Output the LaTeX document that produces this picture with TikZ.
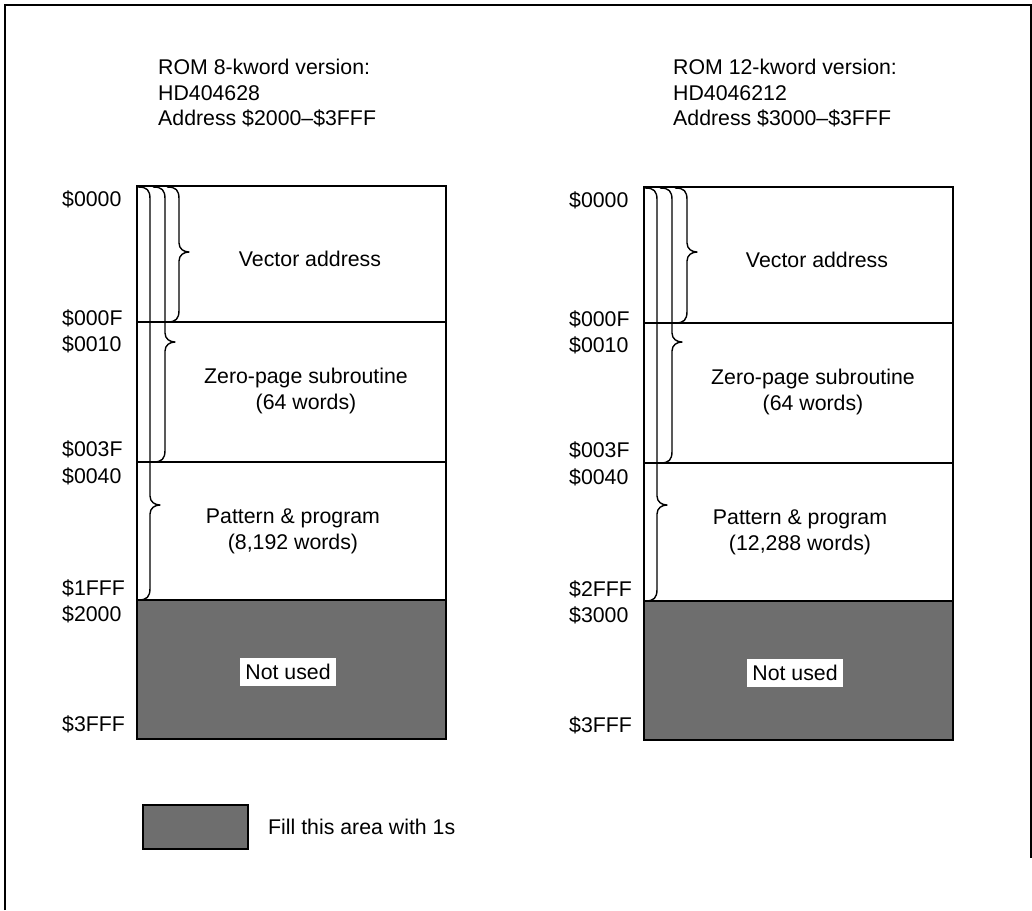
\documentclass[tikz,border=0pt]{standalone}
\usepackage{fontspec}
\setmainfont{Liberation Sans}
\tikzset{
  lbl/.style={font=\fontsize{21.3}{26}\selectfont, inner sep=0pt},
  addr/.style={lbl, anchor=base west},
  ttl/.style={lbl, anchor=base west},
  region/.style={lbl, align=center},
  memframe/.style={line width=2.6pt},
  divider/.style={line width=2pt},
  brc/.style={line width=1.4pt, line join=round},
  unused/.style={fill=black!57},
  whitelbl/.style={lbl, fill=white, inner xsep=5pt, minimum height=28pt},
  border/.style={line width=2.2pt},
}
\newcommand\membrace[4]{%
  \draw[brc] ({#1-12},{#2}) .. controls ({#1-3},{#2}) and ({#1},{#2+3}) .. ({#1},{#2+12})
    -- ({#1},{#3-9}) .. controls ({#1},{#3-3}) and ({#1+5},{#3}) .. ({#1+10},{#3})
    .. controls ({#1+5},{#3}) and ({#1},{#3+3}) .. ({#1},{#3+9})
    -- ({#1},{#4-12}) .. controls ({#1},{#4-3}) and ({#1-3},{#4}) .. ({#1-12},{#4});}
\begin{document}
\begin{tikzpicture}[x=1pt, y=-1pt]
\useasboundingbox (0,0) rectangle (1032,910);
% outer frame
\draw[border] (5,910) -- (5,5) -- (1031,5) -- (1031,858);

% ---------- left map ----------
\node[ttl] (lt1) at (158,74) {ROM 8-kword version:};
\node[ttl] (lt2) at (158,100) {HD404628};
\node[ttl] (lt3) at (158,125) {Address \$2000--\$3FFF};

\fill[unused] (137,600) rectangle (446,739);
\draw[divider] (137,322) -- (446,322);
\draw[divider] (137,462) -- (446,462);
\draw[divider] (137,600) -- (446,600);
\draw[memframe] (137,186) rectangle (446,739);

\membrace{150}{187}{505}{600}
\membrace{165}{187}{342}{462}
\membrace{179}{187}{252}{322}

\node[region] (lva) at (310,259) {Vector address};
\node[region] (lzp) at (306,391) {Zero-page subroutine\\(64 words)};
\node[region] (lpp) at (293,531) {Pattern \& program\\(8,192 words)};
\node[whitelbl] (lnu) at (288,672) {Not used};

\node[addr] (la1) at (62,206.5) {\$0000};
\node[addr] (la2) at (62,325) {\$000F};
\node[addr] (la3) at (62,351.5) {\$0010};
\node[addr] (la4) at (62,456.5) {\$003F};
\node[addr] (la5) at (62,483.5) {\$0040};
\node[addr] (la6) at (62,595.5) {\$1FFF};
\node[addr] (la7) at (62,621.5) {\$2000};
\node[addr] (la8) at (62,731.5) {\$3FFF};

% ---------- right map ----------
\node[ttl] (rt1) at (673,74) {ROM 12-kword version:};
\node[ttl] (rt2) at (673,100) {HD4046212};
\node[ttl] (rt3) at (673,125) {Address \$3000--\$3FFF};

\fill[unused] (644,601) rectangle (953,740);
\draw[divider] (644,323) -- (953,323);
\draw[divider] (644,463) -- (953,463);
\draw[divider] (644,601) -- (953,601);
\draw[memframe] (644,187) rectangle (953,740);

\membrace{657}{188}{505}{601}
\membrace{672}{188}{342}{463}
\membrace{687}{188}{252}{323}

\node[region] (rva) at (817,260) {Vector address};
\node[region] (rzp) at (813,392) {Zero-page subroutine\\(64 words)};
\node[region] (rpp) at (800,532) {Pattern \& program\\(12,288 words)};
\node[whitelbl] (rnu) at (795,673) {Not used};

\node[addr] (ra1) at (569,207) {\$0000};
\node[addr] (ra2) at (569,326) {\$000F};
\node[addr] (ra3) at (569,352) {\$0010};
\node[addr] (ra4) at (569,457) {\$003F};
\node[addr] (ra5) at (569,484) {\$0040};
\node[addr] (ra6) at (569,596.5) {\$2FFF};
\node[addr] (ra7) at (569,622) {\$3000};
\node[addr] (ra8) at (569,732) {\$3FFF};

% ---------- legend ----------
\draw[unused, line width=1.6pt] (143,805) rectangle (248,849);
\node[lbl, anchor=west] (leg) at (268,827) {Fill this area with 1s};
\end{tikzpicture}
\end{document}
